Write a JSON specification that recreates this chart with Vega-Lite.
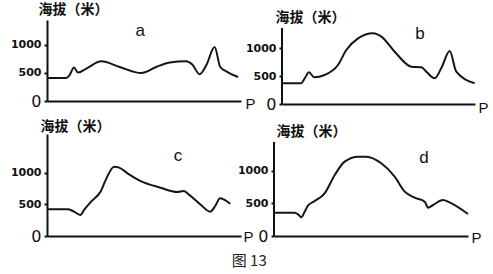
{
  "$schema": "https://vega.github.io/schema/vega-lite/v6.json",
  "autosize": {"type": "pad"},
  "padding": {"left": 10, "top": 2, "right": 0, "bottom": 0},
  "background": "white",
  "title": {"text": "图 13", "orient": "bottom", "anchor": "middle", "font": "Noto Sans CJK SC", "fontSize": 15, "fontWeight": "normal", "color": "#222", "offset": 9},
  "datasets": {
    "a": [{"x":0,"elev":411},{"x":9.9,"elev":411},{"x":11.6,"elev":459},{"x":13.9,"elev":596},{"x":16,"elev":507},{"x":20.3,"elev":579},{"x":28,"elev":709},{"x":37.5,"elev":607},{"x":48.6,"elev":500},{"x":56.3,"elev":607},{"x":63.2,"elev":686},{"x":71.8,"elev":709},{"x":74.9,"elev":650},{"x":78.7,"elev":477},{"x":82.1,"elev":637},{"x":86.4,"elev":964},{"x":89.3,"elev":607},{"x":92.4,"elev":530},{"x":98.5,"elev":429}],
    "b": [{"x":0,"elev":370},{"x":10,"elev":370},{"x":11.8,"elev":459},{"x":14,"elev":566},{"x":16.6,"elev":477},{"x":22.1,"elev":518},{"x":29,"elev":696},{"x":33.3,"elev":964},{"x":39.4,"elev":1173},{"x":47.2,"elev":1263},{"x":51.5,"elev":1202},{"x":58.4,"elev":934},{"x":67,"elev":666},{"x":72.2,"elev":655},{"x":74.8,"elev":577},{"x":79.1,"elev":459},{"x":82.5,"elev":637},{"x":86.9,"elev":946},{"x":90.3,"elev":577},{"x":99.8,"elev":370}],
    "c": [{"x":0,"elev":421},{"x":10.8,"elev":421},{"x":13.3,"elev":395},{"x":17.2,"elev":332},{"x":19.3,"elev":421},{"x":22.7,"elev":542},{"x":27.8,"elev":710},{"x":30.4,"elev":895},{"x":34.6,"elev":1095},{"x":37.2,"elev":1080},{"x":42.3,"elev":974},{"x":48.3,"elev":868},{"x":58.5,"elev":763},{"x":67.1,"elev":695},{"x":70.5,"elev":711},{"x":73,"elev":658},{"x":79,"elev":500},{"x":84.1,"elev":384},{"x":86.7,"elev":474},{"x":89.2,"elev":595},{"x":91.8,"elev":568},{"x":94.4,"elev":510}],
    "d": [{"x":0,"elev":359},{"x":10.7,"elev":359},{"x":12.4,"elev":333},{"x":14.1,"elev":287},{"x":15.8,"elev":374},{"x":17.5,"elev":467},{"x":21,"elev":538},{"x":26.1,"elev":656},{"x":31.3,"elev":938},{"x":36.4,"elev":1144},{"x":43.3,"elev":1220},{"x":47.6,"elev":1220},{"x":55.3,"elev":1118},{"x":62.2,"elev":913},{"x":67.4,"elev":682},{"x":72.5,"elev":590},{"x":77.7,"elev":528},{"x":79.4,"elev":436},{"x":82,"elev":477},{"x":87.1,"elev":554},{"x":90.5,"elev":518},{"x":100,"elev":338}]
  },
  "config": {
    "view": {"stroke": null},
    "axis": {"grid": false, "domainColor": "#111", "domainWidth": 2, "tickColor": "#111", "labelColor": "#111", "titleColor": "#111"}
  },
  "spacing": 4,
  "vconcat": [
    {
      "bounds": "flush",
      "spacing": 41,
      "hconcat": [
        {
          "width": 194, "height": 81,
          "data": {"name": "a"},
          "layer": [
            {"mark": {"type": "line", "interpolate": "monotone", "color": "#151515", "strokeWidth": 2},
             "encoding": {
               "x": {"field": "x", "type": "quantitative", "scale": {"domain": [0, 100], "nice": false, "zero": false},
                     "axis": {"title": "P", "labels": false, "ticks": false, "titleAngle": 0, "titleX": 198, "titleY": 2, "titleAlign": "left", "titleBaseline": "middle", "titleFont": "Liberation Sans", "titleFontSize": 15, "titleFontWeight": "normal"}},
               "y": {"field": "elev", "type": "quantitative", "scale": {"domain": [0, 1446], "nice": false},
                     "axis": {"title": "海拔（米）", "values": [0, 500, 1000], "format": "d", "tickSize": 3, "tickWidth": 2, "labelPadding": 3, "labelOverlap": false, "labelFlush": false, "labelFont": "DejaVu Sans",
                              "labelFontSize": {"condition": {"test": "datum.value === 0", "value": 16}, "value": 11},
                              "labelFontWeight": {"condition": {"test": "datum.value === 0", "value": "normal"}, "value": "bold"},
                              "titleAngle": 0, "titleX": -9, "titleY": -11, "titleAlign": "left", "titleBaseline": "middle", "titleFont": "Noto Sans CJK SC", "titleFontSize": 14, "titleFontWeight": "bold"}}
             }},
            {"data": {"values": [{"label": "a"}]},
             "mark": {"type": "text", "font": "Liberation Sans", "fontSize": 17, "color": "#111"},
             "encoding": {"x": {"datum": 48, "type": "quantitative"}, "y": {"datum": 1245, "type": "quantitative"}, "text": {"field": "label"}}}
          ]
        },
        {
          "width": 193, "height": 84,
          "data": {"name": "b"},
          "layer": [
            {"mark": {"type": "line", "interpolate": "monotone", "color": "#151515", "strokeWidth": 2},
             "encoding": {
               "x": {"field": "x", "type": "quantitative", "scale": {"domain": [0, 100], "nice": false, "zero": false},
                     "axis": {"title": "P", "labels": false, "ticks": false, "titleAngle": 0, "titleX": 196, "titleY": 3, "titleAlign": "left", "titleBaseline": "middle", "titleFont": "Liberation Sans", "titleFontSize": 15, "titleFontWeight": "normal"}},
               "y": {"field": "elev", "type": "quantitative", "scale": {"domain": [0, 1500], "nice": false},
                     "axis": {"title": "海拔（米）", "domain": false, "values": [0, 500, 1000], "format": "d", "tickSize": 3, "tickWidth": 2, "labelPadding": 3, "labelOverlap": false, "labelFlush": false, "labelFont": "DejaVu Sans",
                              "labelFontSize": {"condition": {"test": "datum.value === 0", "value": 16}, "value": 11},
                              "labelFontWeight": {"condition": {"test": "datum.value === 0", "value": "normal"}, "value": "bold"},
                              "titleAngle": 0, "titleX": -7, "titleY": -3, "titleAlign": "left", "titleBaseline": "middle", "titleFont": "Noto Sans CJK SC", "titleFontSize": 14, "titleFontWeight": "bold"}}
             }},
            {"data": {"values": [{"axis": "y"}]},
             "mark": {"type": "rule", "color": "#111", "strokeWidth": 2},
             "encoding": {"x": {"datum": 0, "type": "quantitative"}, "y": {"datum": 0, "type": "quantitative"}, "y2": {"datum": 1357}}},
            {"data": {"values": [{"label": "b"}]},
             "mark": {"type": "text", "font": "Liberation Sans", "fontSize": 17, "color": "#111"},
             "encoding": {"x": {"datum": 71.5, "type": "quantitative"}, "y": {"datum": 1250, "type": "quantitative"}, "text": {"field": "label"}}}
          ]
        }
      ]
    },
    {
      "bounds": "flush",
      "spacing": 33,
      "hconcat": [
        {
          "width": 194, "height": 102,
          "data": {"name": "c"},
          "layer": [
            {"mark": {"type": "line", "interpolate": "monotone", "color": "#151515", "strokeWidth": 2},
             "encoding": {
               "x": {"field": "x", "type": "quantitative", "scale": {"domain": [0, 100], "nice": false, "zero": false},
                     "axis": {"title": "P", "labels": false, "ticks": false, "titleAngle": 0, "titleX": 196, "titleY": 0, "titleAlign": "left", "titleBaseline": "middle", "titleFont": "Liberation Sans", "titleFontSize": 15, "titleFontWeight": "normal"}},
               "y": {"field": "elev", "type": "quantitative", "scale": {"domain": [0, 1611], "nice": false},
                     "axis": {"title": "海拔（米）", "values": [0, 500, 1000], "format": "d", "tickSize": 3, "tickWidth": 2, "labelPadding": 3, "labelOverlap": false, "labelFlush": false, "labelFont": "DejaVu Sans",
                              "labelFontSize": {"condition": {"test": "datum.value === 0", "value": 16}, "value": 11},
                              "labelFontWeight": {"condition": {"test": "datum.value === 0", "value": "normal"}, "value": "bold"},
                              "titleAngle": 0, "titleX": -7, "titleY": -8, "titleAlign": "left", "titleBaseline": "middle", "titleFont": "Noto Sans CJK SC", "titleFontSize": 14, "titleFontWeight": "bold"}}
             }},
            {"data": {"values": [{"label": "c"}]},
             "mark": {"type": "text", "font": "Liberation Sans", "fontSize": 17, "color": "#111"},
             "encoding": {"x": {"datum": 67.5, "type": "quantitative"}, "y": {"datum": 1264, "type": "quantitative"}, "text": {"field": "label"}}}
          ]
        },
        {
          "width": 194, "height": 102,
          "data": {"name": "d"},
          "layer": [
            {"mark": {"type": "line", "interpolate": "monotone", "color": "#151515", "strokeWidth": 2},
             "encoding": {
               "x": {"field": "x", "type": "quantitative", "scale": {"domain": [0, 100], "nice": false, "zero": false},
                     "axis": {"title": "P", "labels": false, "ticks": false, "titleAngle": 0, "titleX": 197, "titleY": 1, "titleAlign": "left", "titleBaseline": "middle", "titleFont": "Liberation Sans", "titleFontSize": 15, "titleFontWeight": "normal"}},
               "y": {"field": "elev", "type": "quantitative", "scale": {"domain": [0, 1569], "nice": false},
                     "axis": {"title": "海拔（米）", "domain": false, "values": [0, 500, 1000], "format": "d", "tickSize": 3, "tickWidth": 2, "labelPadding": 3, "labelOverlap": false, "labelFlush": false, "labelFont": "DejaVu Sans",
                              "labelFontSize": {"condition": {"test": "datum.value === 0", "value": 16}, "value": 11},
                              "labelFontWeight": {"condition": {"test": "datum.value === 0", "value": "normal"}, "value": "bold"},
                              "titleAngle": 0, "titleX": 2, "titleY": -3, "titleAlign": "left", "titleBaseline": "middle", "titleFont": "Noto Sans CJK SC", "titleFontSize": 14, "titleFontWeight": "bold"}}
             }},
            {"data": {"values": [{"axis": "y"}]},
             "mark": {"type": "rule", "color": "#111", "strokeWidth": 2},
             "encoding": {"x": {"datum": 0, "type": "quantitative"}, "y": {"datum": 0, "type": "quantitative"}, "y2": {"datum": 1446}}},
            {"data": {"values": [{"label": "d"}]},
             "mark": {"type": "text", "font": "Liberation Sans", "fontSize": 17, "color": "#111"},
             "encoding": {"x": {"datum": 77.3, "type": "quantitative"}, "y": {"datum": 1200, "type": "quantitative"}, "text": {"field": "label"}}}
          ]
        }
      ]
    }
  ]
}
